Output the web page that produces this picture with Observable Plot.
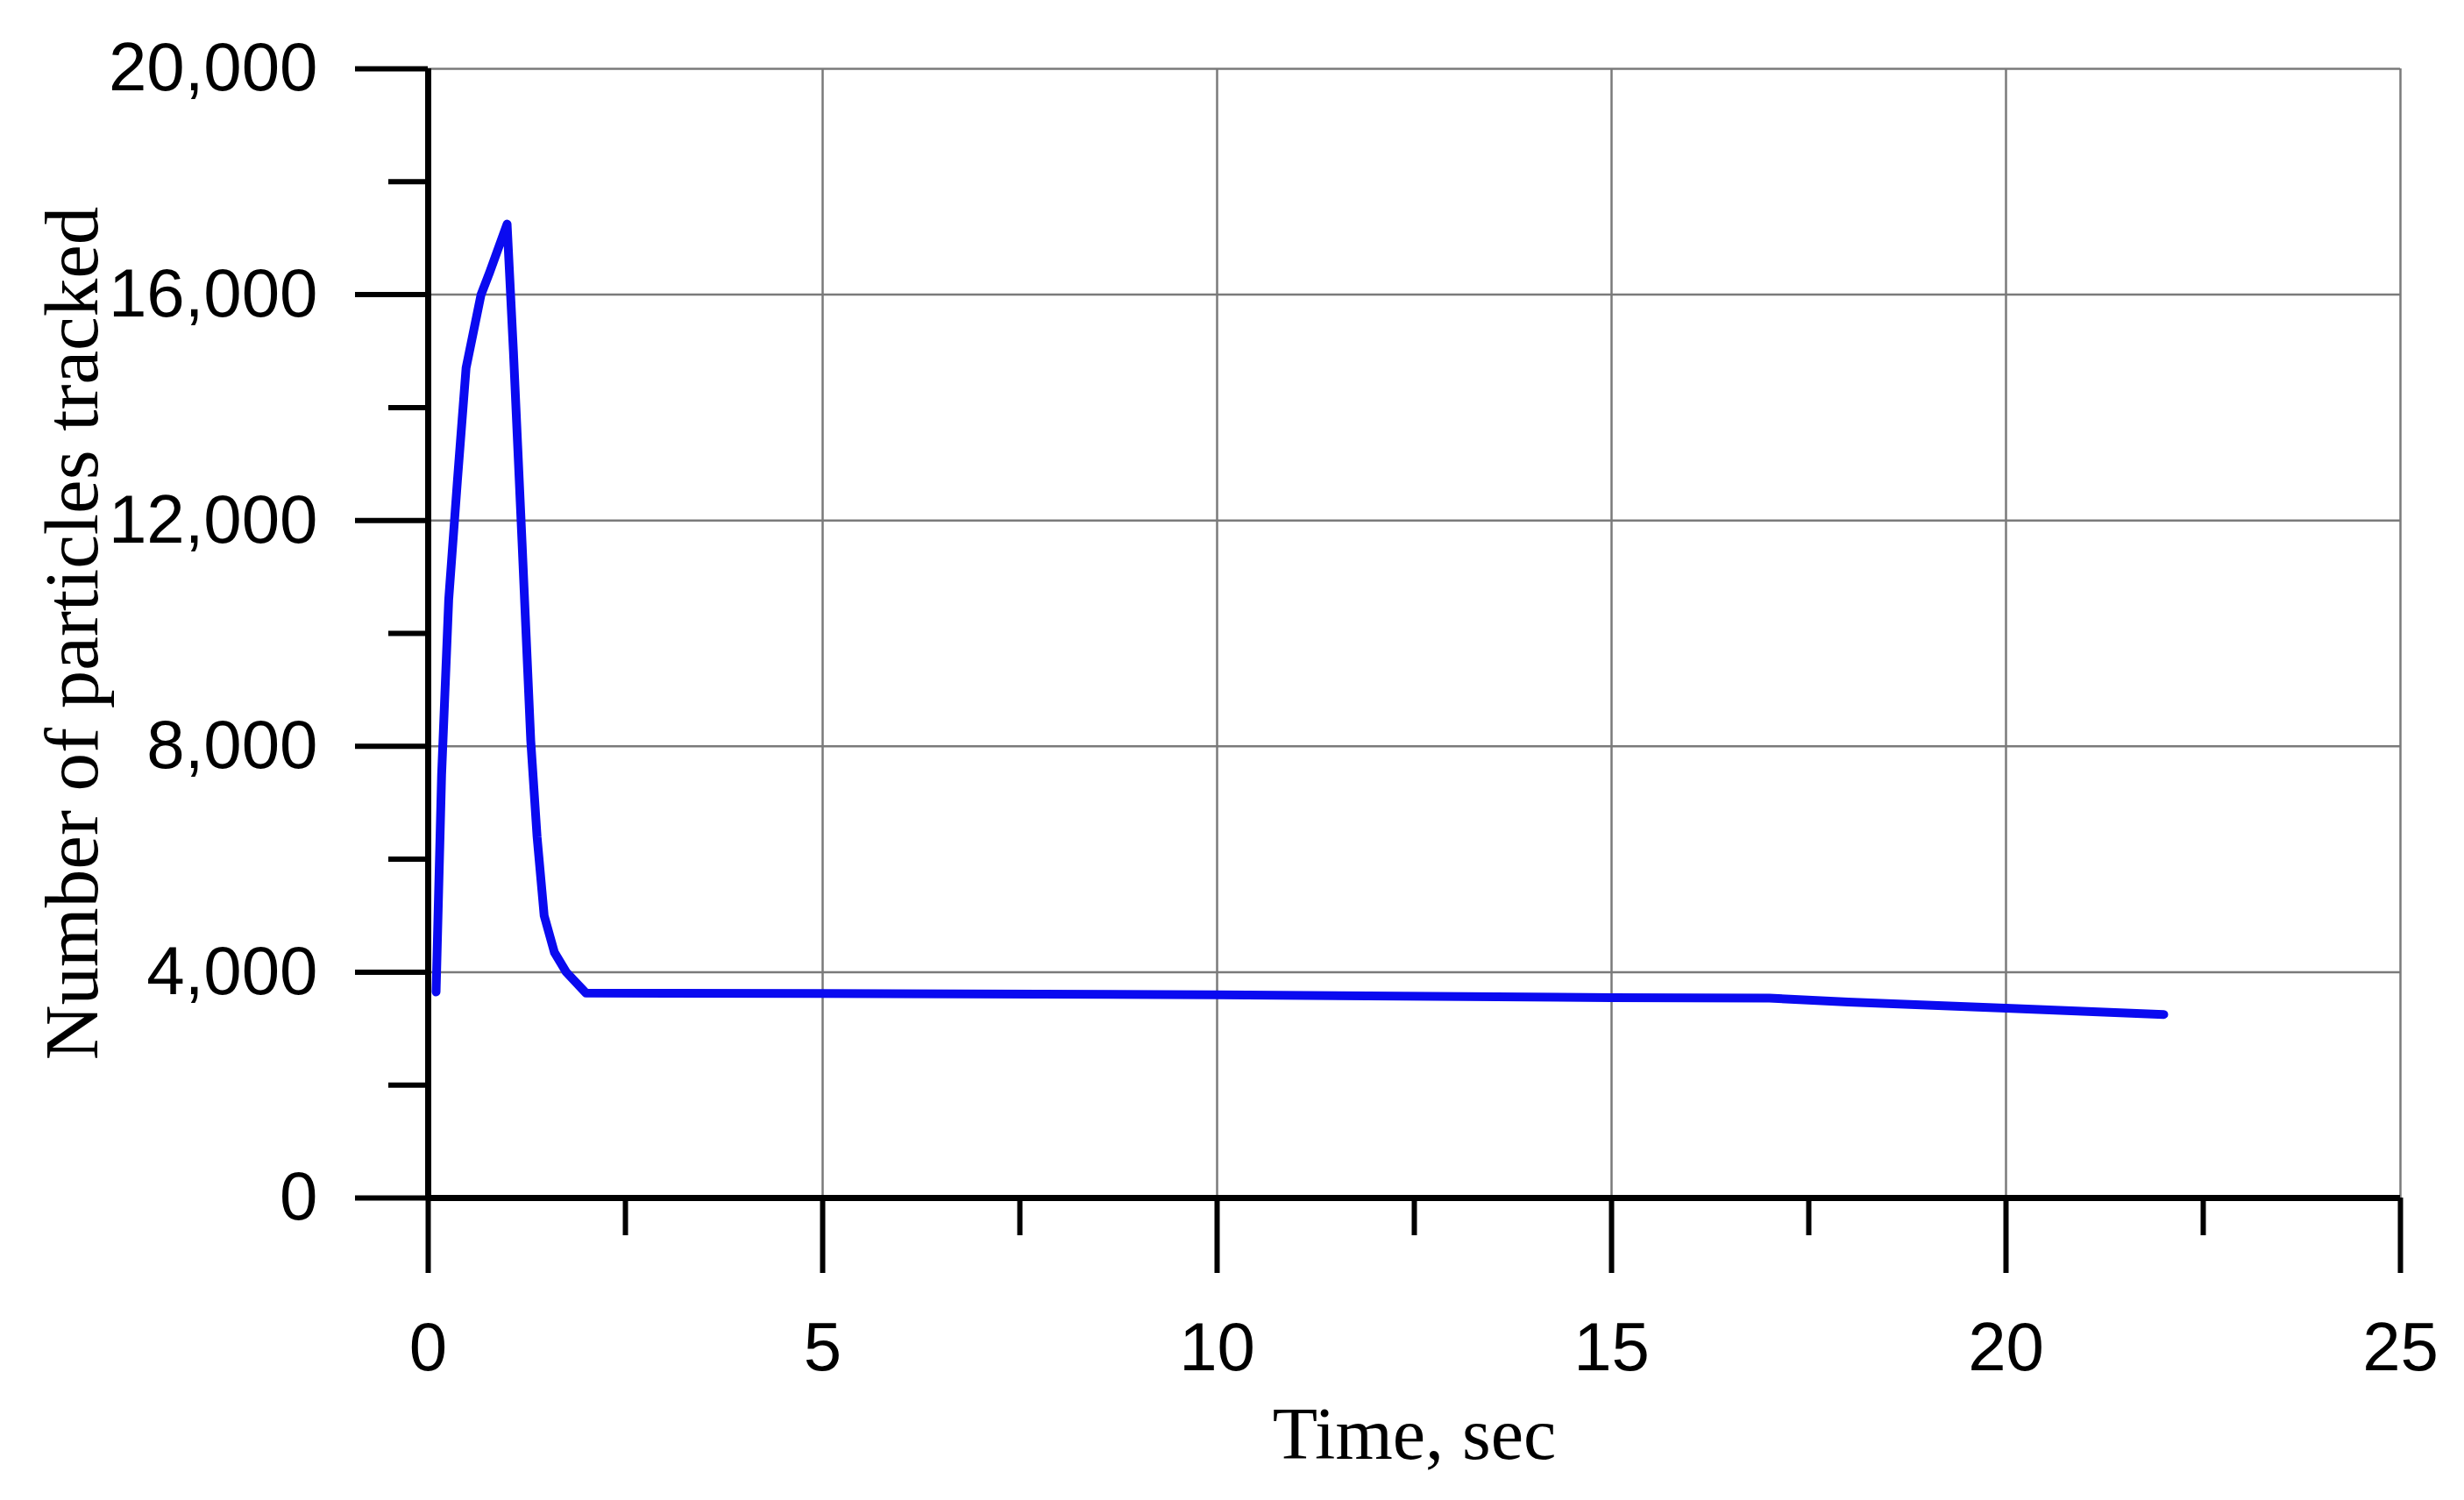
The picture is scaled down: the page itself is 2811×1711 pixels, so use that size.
<!DOCTYPE html>
<html>
<head>
<meta charset="utf-8">
<script src="https://cdn.jsdelivr.net/npm/d3@7"></script>
<script src="https://cdn.jsdelivr.net/npm/@observablehq/plot@0.6"></script>
<style>
  html, body { margin: 0; padding: 0; background: #fff; }
</style>
</head>
<body>
<div id="chart"></div>
<script>
const time = [0.1, 0.17, 0.26, 0.37, 0.48, 0.67, 0.78, 1.0, 1.08, 1.19, 1.3, 1.38, 1.47, 1.6, 1.75, 2.0, 5, 10, 15, 17, 18, 20, 22];
const particles = [3650, 7500, 10600, 12700, 14700, 16000, 16400, 17250, 15000, 11600, 8100, 6400, 5000, 4350, 4000, 3630, 3620, 3600, 3550, 3540, 3470, 3360, 3250];

const xMajor = [0, 5, 10, 15, 20, 25];
const xMinor = [2.5, 7.5, 12.5, 17.5, 22.5];
const yMajor = [0, 4000, 8000, 12000, 16000, 20000];
const yMinor = [2000, 6000, 10000, 14000, 18000];
const xGrid = [5, 10, 15, 20, 25];
const yGrid = [4000, 8000, 12000, 16000, 20000];

const xTitle = "Time, sec";
const yTitle = "Number of particles tracked";

const data = time.map((t, i) => ({t, n: particles[i]}));

const sans = "'Liberation Sans', Arial, sans-serif";
const serif = "'Liberation Serif', 'Times New Roman', serif";

const chart = Plot.plot({
  width: 2811,
  height: 1711,
  marginLeft: 488,
  marginRight: 73,
  marginTop: 78,
  marginBottom: 345,
  x: {domain: [0, 25]},
  y: {domain: [0, 20000]},
  style: {background: "#fff"},
  marks: [
    Plot.gridX(xGrid, {stroke: "#7a7a7a", strokeOpacity: 1, strokeWidth: 2.5}),
    Plot.gridY(yGrid, {stroke: "#7a7a7a", strokeOpacity: 1, strokeWidth: 2.5}),
    Plot.axisX({ticks: xMinor, tickSize: 43, strokeWidth: 6, tickFormat: () => "", label: null}),
    Plot.axisX({ticks: xMajor, tickSize: 86, strokeWidth: 6, tickPadding: 55, fontSize: 78, fontFamily: sans, tickFormat: d => String(d), label: null, fill: "#000"}),
    Plot.axisY({ticks: yMinor, tickSize: 45, strokeWidth: 6, tickFormat: () => "", label: null}),
    Plot.axisY({ticks: yMajor, tickSize: 83, strokeWidth: 6, tickPadding: 43, fontSize: 78, fontFamily: sans, tickFormat: d3.format(","), label: null, fill: "#000"}),
    Plot.ruleX([0], {stroke: "#000", strokeWidth: 7}),
    Plot.ruleY([0], {stroke: "#000", strokeWidth: 7}),
    Plot.line(data, {x: "t", y: "n", stroke: "#0a0af0", strokeWidth: 10, strokeLinejoin: "round", strokeLinecap: "round"}),
    Plot.text([xTitle], {frameAnchor: "bottom", dy: 271, fontSize: 84, fontFamily: serif, fill: "#000", textAnchor: "middle", lineAnchor: "middle"}),
    Plot.text([yTitle], {frameAnchor: "left", dx: -405, rotate: -90, fontSize: 87, fontFamily: serif, fill: "#000", textAnchor: "middle", lineAnchor: "middle"})
  ]
});
document.getElementById("chart").appendChild(chart);
</script>
</body>
</html>
